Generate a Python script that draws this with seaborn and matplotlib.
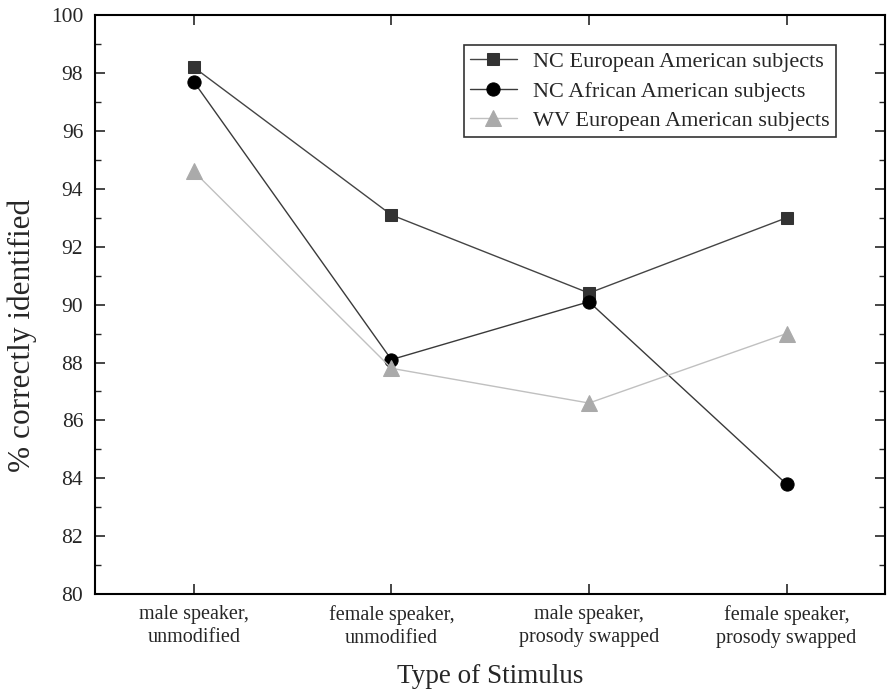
import numpy as np
import pandas as pd
import matplotlib
matplotlib.use("Agg")
import matplotlib.pyplot as plt
from matplotlib.ticker import MultipleLocator
import seaborn as sns

categories = [
    "male speaker,\nunmodified",
    "female speaker,\nunmodified",
    "male speaker,\nprosody swapped",
    "female speaker,\nprosody swapped",
]
series_names = [
    "NC European American subjects",
    "NC African American subjects",
    "WV European American subjects",
]
nc_european = [98.2, 93.1, 90.4, 93.0]
nc_african = [97.7, 88.1, 90.1, 83.8]
wv_european = [94.6, 87.8, 86.6, 89.0]

rows = []
for name, vals in zip(series_names, [nc_european, nc_african, wv_european]):
    for i, v in enumerate(vals):
        rows.append({"pos": i, "value": v, "group": name})
df = pd.DataFrame(rows)

sns.set_theme(style="ticks")
plt.rcParams["font.family"] = ["Liberation Serif", "DejaVu Serif"]

fig = plt.figure(figsize=(8.88, 6.9), dpi=100)
ax = fig.add_axes([0.107, 0.139, 0.890, 0.839])

line_colors = {series_names[0]: "#444444", series_names[1]: "#3a3a3a", series_names[2]: "#c0c0c0"}
marker_colors = {series_names[0]: "#333333", series_names[1]: "#000000", series_names[2]: "#aaaaaa"}
markers = {series_names[0]: "s", series_names[1]: "o", series_names[2]: "^"}
sizes = {series_names[0]: 8, series_names[1]: 9.5, series_names[2]: 11}

for name in series_names:
    sub = df[df["group"] == name]
    sns.lineplot(
        data=sub, x="pos", y="value", ax=ax, color=line_colors[name],
        linewidth=1.0, marker=markers[name], markersize=sizes[name],
        markerfacecolor=marker_colors[name], markeredgecolor=marker_colors[name],
        label=name, legend=False,
    )

ax.set_xlim(-0.5, len(categories) - 0.5)
ax.set_ylim(80, 100)
ax.set_xticks(range(len(categories)))
ax.set_xticklabels(categories, fontsize=14.5, linespacing=1.25)
ax.yaxis.set_major_locator(MultipleLocator(2))
ax.yaxis.set_minor_locator(MultipleLocator(1))
ax.tick_params(axis="y", which="major", labelsize=15.5, direction="in", length=7, width=1.2,
               right=True, pad=8.5)
ax.tick_params(axis="y", which="minor", direction="in", length=4, width=1.0, right=True)
ax.tick_params(axis="x", which="major", direction="in", length=7, width=1.2, top=True, pad=8)
for sp in ax.spines.values():
    sp.set_linewidth(1.5)
    sp.set_color("black")

ax.set_xlabel("Type of Stimulus", fontsize=19.5, labelpad=12)
ax.set_ylabel("% correctly identified", fontsize=22.5)
ax.yaxis.set_label_coords(-0.073, 0.447)

leg = ax.legend(loc="upper right", bbox_to_anchor=(0.938, 0.948), borderaxespad=0,
                fontsize=16, frameon=True, fancybox=False, edgecolor="black",
                handlelength=2.1, borderpad=0.28, labelspacing=0.4, handletextpad=0.75)
leg.get_frame().set_linewidth(1.2)

fig.savefig("out.png", dpi=100, facecolor="white")
